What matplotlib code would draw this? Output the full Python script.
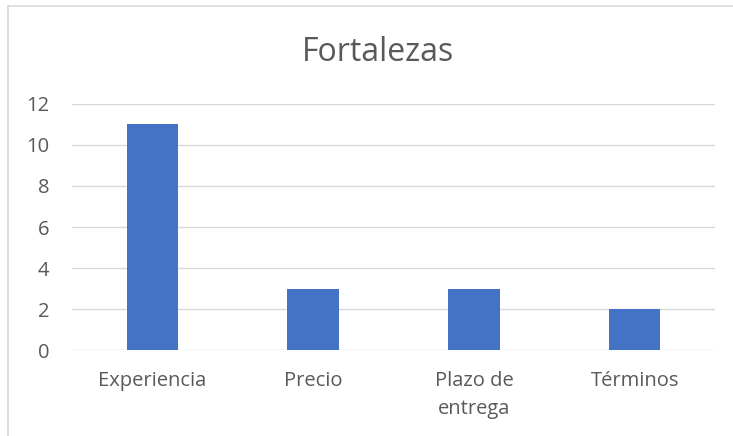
import matplotlib.pyplot as plt
from matplotlib.lines import Line2D

# datos del gráfico
categorias = ["Experiencia", "Precio", "Plazo de\nentrega", "Términos"]
valores = [11, 3, 3, 2]
marcas_y = [0, 2, 4, 6, 8, 10, 12]

plt.rcParams['font.family'] = ['Open Sans', 'DejaVu Sans']

fig = plt.figure(figsize=(7.33, 4.36), dpi=100)
ax = fig.add_axes([0.0982, 0.1972, 0.8773, 0.5643])

x = range(len(categorias))
ax.bar(x, valores, width=0.32, color='#4472C4', zorder=3)

ax.set_xlim(-0.5, len(categorias) - 0.5)
ax.set_ylim(0, 12)
ax.set_yticks(marcas_y)
ax.set_xticks(list(x))
ax.set_xticklabels(categorias, fontsize=14.5, color='#595959', linespacing=1.55)
ax.tick_params(axis='y', labelsize=14.5, labelcolor='#595959', length=0, pad=16.5)
ax.tick_params(axis='x', length=0, pad=15)

ax.grid(axis='y', color='#D9D9D9', linewidth=1, zorder=0)
for s in ax.spines.values():
    s.set_visible(False)

fig.text(0.516, 0.88, "Fortalezas", fontsize=23, color='#595959',
         ha='center', va='center')

# borde del área del gráfico (izquierda y arriba)
fig.add_artist(Line2D([0.011, 0.011], [0, 0.986], color='#D9D9D9', linewidth=1.2, transform=fig.transFigure))
fig.add_artist(Line2D([0.011, 1], [0.986, 0.986], color='#D9D9D9', linewidth=1.2, transform=fig.transFigure))

plt.savefig("out.png", dpi=100)
